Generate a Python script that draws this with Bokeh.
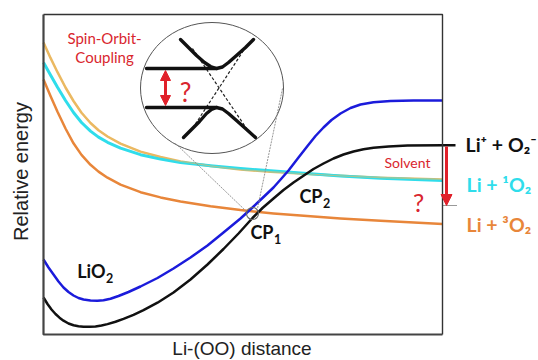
import numpy as np
from bokeh.plotting import figure
from bokeh.models import Range1d, Arrow, NormalHead
from bokeh.core.properties import value
from bokeh.embed import file_html
from bokeh.resources import INLINE

# ---------------- data (arbitrary units: distance 0..399, energy 0..320) ----------------
tan_x = [0, 7, 14, 22, 30, 38, 47, 55, 64, 77, 97, 117, 137, 167, 197, 227, 257, 297, 337, 399]
tan_y = [292, 276.6, 262.3, 247, 233.5, 221.8, 211.5, 204.3, 198, 190.9, 182.9, 177.5, 173,
         168.6, 165, 162.8, 161, 158.7, 156.8, 155]

cyan_x = [0, 7, 14, 22, 30, 38, 47, 55, 64, 77, 97, 117, 137, 167, 197, 227, 257, 297, 337, 399]
cyan_y = [272, 259.4, 247.2, 234, 222, 212, 203.4, 197.4, 192.2, 186.4, 179.8, 175.4, 172,
          168.7, 166, 163.8, 161.5, 158.5, 156.3, 154]

orange_x = [0, 7, 14, 22, 30, 38, 47, 55, 64, 77, 97, 117, 137, 167, 197, 230, 257, 297, 337, 399]
orange_y = [255, 238.6, 222.8, 206, 191.2, 179.6, 169.7, 162.9, 156.8, 149.9, 142.3, 137.1, 133.1,
            128.3, 124.4, 121.1, 118.9, 116.1, 113.7, 110.6]

blue_x = [0, 5, 10, 15, 20, 25, 30, 35, 40, 47, 54, 60, 67, 75, 85, 97, 114, 130, 147, 164, 180,
          197, 209, 219, 230, 238, 245, 255, 264, 272, 280, 288, 297, 307, 317, 330, 347, 370, 399]
blue_y = [75, 67, 60, 53, 47, 42.5, 39, 36.5, 35, 34, 33.8, 34.3, 35.8, 38.5, 42.5, 48, 56.5, 66,
          77, 89, 102, 116, 127, 136.5, 147, 156, 164, 177, 188.5, 198.5, 207, 214.5, 221, 226.5,
          230, 232.3, 233.5, 234, 234]

black_x = [0, 4, 8, 12, 16, 20, 25, 30, 35, 40, 46, 52, 58, 64, 72, 80, 90, 100, 114, 130, 147,
           164, 180, 195, 209, 219, 230, 240, 250, 260, 270, 280, 290, 300, 310, 320, 330, 345,
           364, 399, 412]
black_y = [37, 30.5, 25, 20.5, 16.8, 13.8, 11, 9.2, 8.2, 7.8, 7.7, 8.1, 9, 10.4, 12.8, 15.6, 19.6,
           24.3, 31.8, 42, 55, 70, 85.5, 101, 116.5, 126.5, 136, 144.5, 152, 158.8, 165.5, 171,
           176, 180, 183, 185.3, 186.8, 188.1, 188.9, 189.3, 189.3]

# crossing point CP1
cp1_x = [209]
cp1_y = [121]

# inset (avoided crossing schematic)
inset_x, inset_y = [168.5], [246.5]
inset_w, inset_h = [143], [131]
upper_x = [103, 165, 173, 179, 185, 193, 202, 210]
upper_y = [266, 266, 266, 267.5, 272, 279, 287, 295]
upper_arm_x = [137, 145, 153, 161, 167, 173]
upper_arm_y = [295, 287, 279, 272, 268, 266]
lower_x = [103, 165, 173, 179, 185, 193, 202, 212]
lower_y = [227, 227, 227, 225.5, 221, 214, 206, 197]
lower_arm_x = [140, 148, 156, 163, 168, 173]
lower_arm_y = [197, 205, 213, 221, 225, 227]
diab_xs = [[149, 203], [200, 149]]
diab_ys = [[286, 206], [284, 206]]
connector_xs = [[132, 203], [239, 214]]
connector_ys = [[191, 123], [246, 126]]

# colours
TAN = "#EBB962"
CYAN = "#2FDDEB"
ORANGE = "#E8863A"
BLUE = "#1B1BDB"
BLACK = "#111111"
RED = "#E0202A"
TXT_RED = "#D9262E"

FONT = value("Lato")
AXFONT = value("Liberation Sans")

p = figure(width=538, height=360, output_backend="svg", toolbar_location=None,
           x_range=Range1d(-43, 495), y_range=Range1d(-26, 334),
           x_axis_location=None, y_axis_location=None, min_border=0,
           background_fill_color="white", border_fill_color="white")
p.outline_line_color = None
p.xgrid.visible = False
p.ygrid.visible = False

# curves
p.line(tan_x, tan_y, line_color=TAN, line_width=2.5, line_join="round")
p.line(cyan_x, cyan_y, line_color=CYAN, line_width=3, line_join="round")
p.line(tan_x, tan_y, line_color=TAN, line_width=1.2, line_alpha=0.6, line_join="round")
p.line(orange_x, orange_y, line_color=ORANGE, line_width=2.5, line_join="round")
p.line(blue_x, blue_y, line_color=BLUE, line_width=2.5, line_join="round")
p.line(black_x, black_y, line_color=BLACK, line_width=2.5, line_join="round")

# box
p.multi_line(xs=[[0, 0, 399], [0, 399, 399]], ys=[[320, 0, 0], [320, 320, 0]],
             line_color=["#444444", "#333333"], line_width=[2.2, 1.4])

# inset
p.ellipse(x=inset_x, y=inset_y, width=inset_w, height=inset_h,
          fill_color=None, line_color="#555555", line_width=1)
p.multi_line(xs=diab_xs, ys=diab_ys, line_color="#222222", line_width=1.2, line_dash="3 2")
for xs, ys in [(upper_x, upper_y), (upper_arm_x, upper_arm_y), (lower_x, lower_y), (lower_arm_x, lower_arm_y)]:
    p.line(xs, ys, line_color=BLACK, line_width=3.4, line_cap="round", line_join="round")
p.multi_line(xs=connector_xs, ys=connector_ys, line_color="#8a8a8a", line_width=0.9, line_dash="2 1")
p.add_layout(Arrow(start=NormalHead(size=10, fill_color=RED, line_color=RED),
                   end=NormalHead(size=10, fill_color=RED, line_color=RED),
                   x_start=122, y_start=264, x_end=122, y_end=229,
                   line_color=RED, line_width=3))
p.text(x=[142], y=[243], text=["?"], text_font=FONT, text_font_size="26px",
       text_color=TXT_RED, text_align="center", text_baseline="alphabetic")

# CP1 marker
p.scatter(x=cp1_x, y=cp1_y, size=12, marker="circle", fill_color=None,
          line_color="#666666", line_width=1.1)

# right-side solvent arrow and dotted tick
p.add_layout(Arrow(end=NormalHead(size=11, fill_color=RED, line_color=RED),
                   x_start=403, y_start=188, x_end=403, y_end=129,
                   line_color=RED, line_width=3))
p.line([400, 413], [129, 129], line_color="#333333", line_width=1.2, line_dash="1 1")

# texts
p.text(x=[61, 61], y=[297, 278], text=["Spin-Orbit-", "Coupling"], text_font=FONT,
       text_font_size="15px", text_color=TXT_RED, text_align="center", text_baseline="alphabetic")
p.text(x=[364], y=[172], text=["Solvent"], text_font=FONT, text_font_size="14px",
       text_color=TXT_RED, text_align="center", text_baseline="alphabetic")
p.text(x=[375], y=[133], text=["?"], text_font=FONT, text_font_size="25px",
       text_color=TXT_RED, text_align="center", text_baseline="alphabetic")

# bold labels with subscripts (main part right-aligned, subscript left-aligned just after)
p.text(x=[62, 230, 279], y=[63.5, 102.5, 138.5], text=["LiO", "CP", "CP"], text_font=FONT,
       text_font_size="18px", text_font_style="bold", text_color=BLACK,
       text_align="right", text_baseline="alphabetic")
p.text(x=[62.5, 230.5, 279.5], y=[56.5, 95.5, 131.5], text=["2", "1", "2"], text_font=FONT,
       text_font_size="12.5px", text_font_style="bold", text_color=BLACK,
       text_align="left", text_baseline="alphabetic")

p.text(x=[422], y=[190.5], text=["Li\u207a + O\u2082\u207b"], text_font=FONT, text_font_size="19.5px",
       text_font_style="bold", text_color=BLACK, text_align="left", text_baseline="alphabetic")
p.text(x=[423], y=[150.5], text=["Li + \u00b9O\u2082"], text_font=FONT, text_font_size="19.5px",
       text_font_style="bold", text_color=CYAN, text_align="left", text_baseline="alphabetic")
p.text(x=[423], y=[110.5], text=["Li + \u00b3O\u2082"], text_font=FONT, text_font_size="19.5px",
       text_font_style="bold", text_color=ORANGE, text_align="left", text_baseline="alphabetic")

# axis titles
p.text(x=[-22.5], y=[163], text=["Relative energy"], text_font=AXFONT, text_font_size="20px",
       text_color="#222222", angle=np.pi / 2, text_align="center", text_baseline="alphabetic")
p.text(x=[198.5], y=[-14], text=["Li-(OO) distance"], text_font=AXFONT, text_font_size="19px",
       text_color="#222222", text_align="center", text_baseline="alphabetic")

open("out.html", "w").write(file_html(p, INLINE))
